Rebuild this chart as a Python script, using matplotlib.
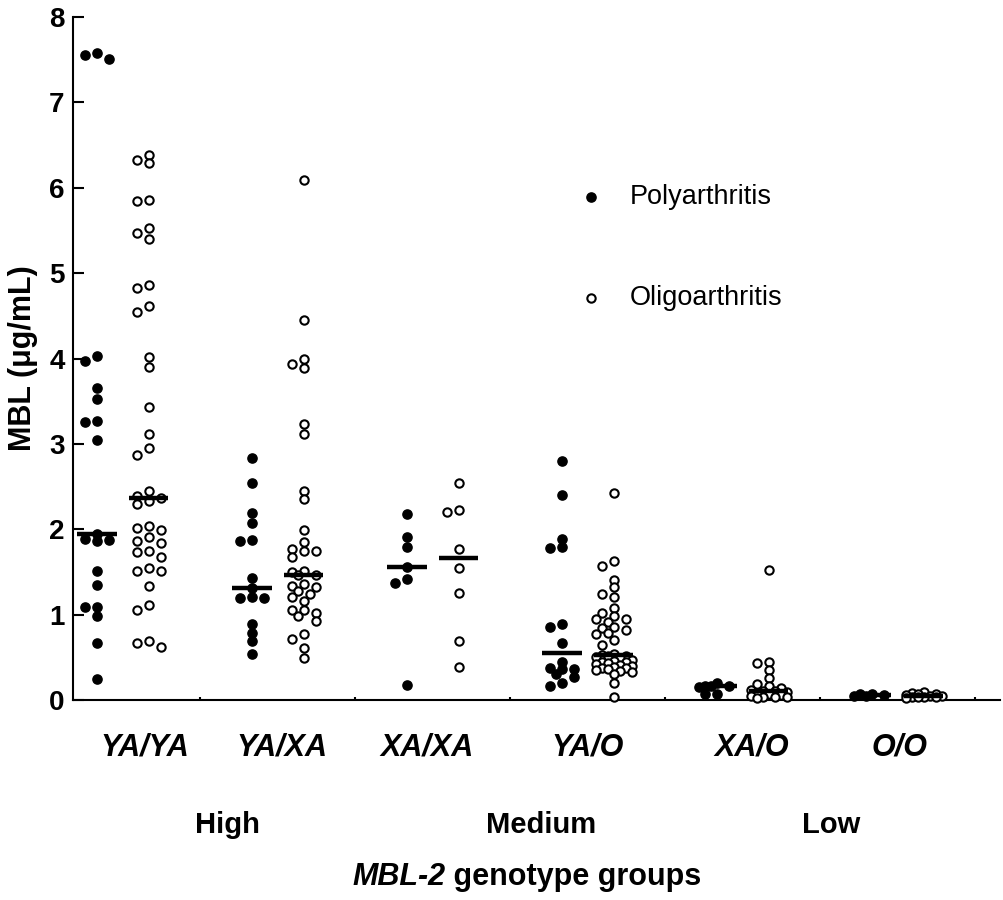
import numpy as np
import matplotlib
matplotlib.use("Agg")
import matplotlib.pyplot as plt

plt.rcParams['font.family'] = ['Liberation Sans', 'DejaVu Sans']

# genotype groups and their expression level
genotypes = ["YA/YA", "YA/XA", "XA/XA", "YA/O", "XA/O", "O/O"]
levels = ["High", "Medium", "Low"]

# MBL (ug/mL), polyarthritis
poly_yaya = [7.58, 7.55, 7.51, 4.03, 3.97, 3.66, 3.53, 3.27, 3.26, 3.04, 1.94, 1.89, 1.87,
             1.86, 1.51, 1.35, 1.09, 1.09, 0.98, 0.67, 0.25]
poly_yaxa = [2.84, 2.54, 2.19, 2.07, 1.87, 1.86, 1.43, 1.31, 1.21, 1.20, 1.20, 0.89, 0.78,
             0.69, 0.54]
poly_xaxa = [2.18, 1.91, 1.79, 1.56, 1.42, 1.37, 0.18]
poly_yao = [2.80, 2.40, 1.89, 1.79, 1.78, 0.89, 0.86, 0.67, 0.44, 0.37, 0.36, 0.36, 0.30,
            0.27, 0.20, 0.16]
poly_xao = [0.20, 0.17, 0.16, 0.16, 0.15, 0.07, 0.07]
poly_oo = [0.07, 0.07, 0.06, 0.05, 0.05]

# oligoarthritis
oligo_yaya = [6.38, 6.32, 6.29, 5.86, 5.85, 5.53, 5.47, 5.40, 4.86, 4.83, 4.62, 4.54, 4.02,
              3.90, 3.43, 3.11, 2.95, 2.87, 2.45, 2.39, 2.37, 2.33, 2.30, 2.04, 2.01, 1.99,
              1.91, 1.86, 1.84, 1.75, 1.73, 1.68, 1.55, 1.51, 1.51, 1.33, 1.11, 1.06, 0.69,
              0.67, 0.62]
oligo_yaxa = [6.09, 4.45, 4.00, 3.93, 3.89, 3.23, 3.12, 2.45, 2.35, 1.99, 1.85, 1.77, 1.74,
              1.74, 1.67, 1.51, 1.50, 1.47, 1.47, 1.36, 1.34, 1.32, 1.28, 1.24, 1.21, 1.16,
              1.06, 1.06, 1.02, 0.98, 0.93, 0.77, 0.72, 0.61, 0.49]
oligo_xaxa = [2.54, 2.23, 2.20, 1.77, 1.55, 1.25, 0.69, 0.39]
oligo_yao = [2.42, 1.63, 1.57, 1.41, 1.32, 1.24, 1.21, 1.08, 1.02, 0.98, 0.95, 0.95, 0.91,
             0.85, 0.84, 0.82, 0.78, 0.77, 0.70, 0.64, 0.54, 0.53, 0.52, 0.52, 0.50, 0.49,
             0.47, 0.46, 0.45, 0.44, 0.43, 0.42, 0.41, 0.40, 0.39, 0.38, 0.37, 0.36, 0.35,
             0.34, 0.33, 0.31, 0.20, 0.03]
oligo_xao = [1.52, 0.44, 0.43, 0.35, 0.26, 0.19, 0.16, 0.14, 0.12, 0.11, 0.10, 0.09, 0.08,
             0.07, 0.06, 0.05, 0.04, 0.03, 0.03, 0.02]
oligo_oo = [0.09, 0.08, 0.07, 0.07, 0.06, 0.05, 0.05, 0.04, 0.04, 0.03, 0.03, 0.02]

poly = [poly_yaya, poly_yaxa, poly_xaxa, poly_yao, poly_xao, poly_oo]
oligo = [oligo_yaya, oligo_yaxa, oligo_xaxa, oligo_yao, oligo_xao, oligo_oo]


def swarm(ax, x0, values, min_dist=7.5):
    # simple column scatter: spread points sideways (in pixels) when they overlap
    slots = [0, -12, 12, -6, 6, -18, 18]
    inv = ax.transData.inverted()
    placed = []
    xs = []
    for v in sorted(values, reverse=True):
        px, py = ax.transData.transform((x0, v))
        best, best_d = None, -1
        for s in slots:
            d = min([np.hypot(px + s - qx, py - qy) for qx, qy in placed] + [1e9])
            if d >= min_dist:
                best = s
                break
            if d > best_d:
                best, best_d = s, d
        placed.append((px + best, py))
        xs.append(inv.transform((px + best, py))[0])
    return xs, sorted(values, reverse=True)


fig = plt.figure(figsize=(10.04, 9), dpi=100)
ax = fig.add_axes([0.0727, 0.2222, 0.9233, 0.7589])
ax.set_xlim(0.536, 18.48)
ax.set_ylim(0, 8)

for i in range(len(genotypes)):
    xp = 3 * i + 1
    xo = 3 * i + 2
    x, y = swarm(ax, xp, poly[i])
    ax.scatter(x, y, s=44, color='black', zorder=3, clip_on=False,
               label='Polyarthritis' if i == 0 else None)
    x, y = swarm(ax, xo, oligo[i])
    ax.scatter(x, y, s=36, facecolor='white', edgecolor='black', linewidths=1.5, zorder=3,
               clip_on=False, label='Oligoarthritis' if i == 0 else None)
    ax.hlines(np.median(poly[i]), xp - 0.38, xp + 0.38, color='black', lw=3.2, zorder=4)
    ax.hlines(np.median(oligo[i]), xo - 0.38, xo + 0.38, color='black', lw=3.2, zorder=4)

# genotype labels under the axis
label_x = [1.93, 4.58, 7.39, 10.5, 13.68, 16.54]
for gx, g in zip(label_x, genotypes):
    ax.text(gx, -0.56, g, ha='center', va='center', fontsize=22, fontweight='bold',
            fontstyle='italic')
for lx, lv in zip([3.53, 9.6, 15.22], levels):
    ax.text(lx, -1.46, lv, ha='center', va='center', fontsize=21, fontweight='bold')
ax.text(7.74, -2.07, "MBL-2", ha='right', va='center', fontsize=22, fontweight='bold',
        fontstyle='italic')
ax.text(7.74, -2.07, " genotype groups", ha='left', va='center', fontsize=22,
        fontweight='bold')

ax.set_ylabel("MBL (\u03bcg/mL)", fontsize=22, fontweight='bold', labelpad=8)
ax.set_yticks(range(0, 9))
ax.set_yticklabels([str(t) for t in range(0, 9)], fontsize=20, fontweight='bold')
ax.set_xticks([3, 6, 9, 12, 15, 18])
ax.set_xticklabels([])
ax.tick_params(axis='y', direction='in', length=8, width=1.5, pad=6)
ax.tick_params(axis='x', direction='in', length=2, width=1.5)
ax.spines['top'].set_visible(False)
ax.spines['right'].set_visible(False)
ax.spines['left'].set_linewidth(1.5)
ax.spines['bottom'].set_linewidth(1.5)

ax.legend(loc='upper left', bbox_to_anchor=(0.544, 0.755), frameon=False, fontsize=19.5,
          handlelength=1.0, handletextpad=0.95, labelspacing=2.75, borderpad=0,
          borderaxespad=0, scatterpoints=1)

fig.savefig("out.png", dpi=100)
